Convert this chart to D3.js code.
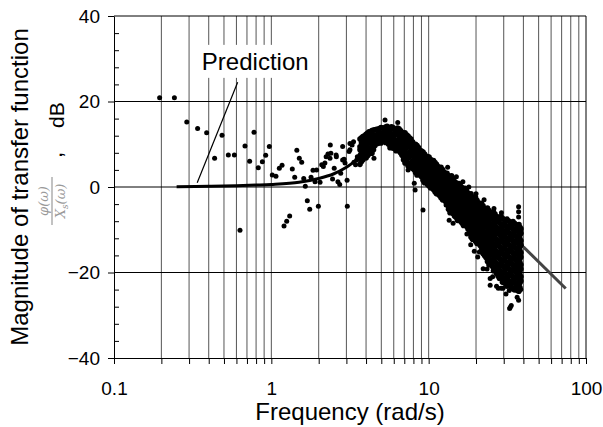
<!DOCTYPE html>
<html>
<head>
<meta charset="utf-8">
<script src="https://cdn.jsdelivr.net/npm/d3@7"></script>
<style>
  body { margin: 0; background: #fff; }
  svg text { font-family: "Liberation Sans", Arial, sans-serif; fill: #000; }
</style>
</head>
<body>
<div id="chart"></div>
<script>
// measured points below ~4.7 rad/s: [frequency, dB]
const sparsePoints = [
  [0.195,20.9],[0.242,20.9],[0.29,15.2],[0.34,13.7],[0.388,12.7],[0.436,6.7],[0.486,12.1],
  [0.533,7.5],[0.582,7.5],[0.632,-10.1],[0.68,9.6],[0.728,6.0],[0.776,12.8],[0.826,4.5],
  [0.877,5.9],[0.921,7.4],[0.971,9.5],[1.014,2.8],[1.07,2.5],[1.124,4.4],[1.17,5.1],
  [1.204,-9.1],[1.252,-8.0],[1.308,-6.8],[1.359,4.2],[1.408,2.3],[1.452,8.6],[1.506,6.7],
  [1.56,5.8],[1.607,2.0],[1.644,0.2],[1.693,-3.2],[1.754,-5.2],[1.788,2.3],[1.84,3.9],
  [1.895,1.2],[1.94,4.0],[1.99,-4.5],[2.04,1.1],[2.09,5.2],[2.14,4.8],[2.19,5.6],[2.23,7.1],
  [2.29,7.7],[2.36,6.7],[2.37,9.8],[2.39,7.9],[2.45,1.9],[2.51,4.4],[2.58,7.5],[2.59,7.1],
  [2.65,1.2],[2.72,0.6],[2.76,3.2],[2.84,6.3],[2.84,9.5],[2.90,6.5],[2.94,5.6],[3.03,1.6],
  [3.04,-4.5],[3.12,8.3],[3.16,8.7],[3.16,10.2],[3.26,9.8],[3.33,10.6],[3.35,5.8],[3.43,5.2],
  [3.49,6.3],[3.52,7.1],[3.66,7.5],[3.75,5.9],[3.85,8.4],[3.88,11.2],[3.94,9.5],
  [4.04,10.2],[4.08,7.9],[4.14,12.2],[4.20,12.2],[4.24,7.9],[4.30,12.6],[4.45,9.1],
  [4.49,6.7],[4.63,10.6],[4.72,12.2]
];

// dense part of the measurement cloud, one column per frequency
const cloudFreq = [
  3.66,3.82,4.00,4.18,4.36,4.56,4.76,4.98,5.20,5.44,5.68,5.93,6.20,6.48,6.77,7.07,7.39,7.72,
  8.07,8.43,8.81,9.21,9.62,10.05,10.50,10.97,11.46,11.98,12.52,13.08,13.67,14.28,14.92,15.59,
  16.29,17.02,17.78,18.58,19.41,20.28,21.20,22.15,23.14,24.18,25.26,26.40,27.58,28.82,30.11,
  31.46,32.87,34.36,35.90,37.50,38.60
];
const cloudDb = [
  [11.2,9.4,8.7,6.9,5.3],
  [11.8,10.1,9.2,7.4,6.4],
  [12.3,11.3,9.5,8.6,6.8],
  [12.9,11.4,10.6,8.8,7.7],
  [13.2,12.0,10.4,9.6,7.9],
  [13.4,12.1,11.3,9.7],
  [13.5,12.7,11.0,10.2],
  [13.9,12.5,11.8,10.3],
  [13.7,13.0,11.6,10.8],
  [14.2,12.8,12.2,10.6],
  [13.6,13.0,11.5,10.6,9.2],
  [13.9,12.4,11.7,9.9,9.1],
  [13.4,12.6,10.9,10.0,8.5],
  [13.6,11.9,11.0,9.2,8.4],
  [12.8,11.9,10.2,9.3,7.4],
  [12.7,11.0,10.1,8.3,7.2,5.6],
  [11.9,10.4,9.5,7.7,6.7,5.0],
  [11.2,9.6,8.7,7.3,5.6,4.8],
  [10.0,9.2,7.5,6.6,4.9,4.1],
  [9.7,8.0,7.1,5.4,4.5,2.8],
  [8.6,7.7,6.0,5.2,3.5,2.8],
  [8.2,6.6,5.7,4.1,3.2,1.6],
  [7.2,6.3,4.6,3.7,2.1,1.4],
  [7.0,5.3,4.4,2.7,1.8,0.3],
  [6.0,5.1,3.4,2.5,0.8,0.1],
  [5.7,4.0,3.1,1.4,0.5,-1.1],
  [4.8,3.9,2.2,1.2,-0.5,-1.4],
  [4.6,2.9,1.9,0.2,-0.7,-2.5],
  [3.5,2.6,0.8,-0.1,-1.9,-2.8],
  [3.2,1.5,0.6,-1.2,-2.2,-4.0],
  [2.1,1.2,-0.6,-1.6,-3.4,-4.4,-6.0],
  [1.9,0.2,-0.8,-2.6,-3.6,-5.4,-6.2],
  [1.0,0.1,-1.7,-2.7,-4.5,-5.5,-7.1],
  [0.8,-0.9,-1.9,-3.7,-4.7,-6.5,-7.3],
  [-0.1,-1.1,-2.9,-3.9,-5.7,-6.7,-8.4],
  [-0.3,-2.1,-3.1,-4.9,-5.9,-7.7,-8.7],
  [-1.4,-2.4,-4.2,-5.2,-7.0,-8.0,-9.8],
  [-1.6,-3.4,-4.4,-6.2,-7.2,-9.0,-10.1,-11.7],
  [-2.9,-3.9,-5.7,-6.7,-8.5,-9.5,-11.3,-12.1],
  [-3.1,-4.9,-5.9,-7.7,-8.7,-10.5,-11.5,-13.2],
  [-4.2,-5.2,-7.0,-8.0,-9.8,-10.8,-12.6,-13.6],
  [-4.4,-6.2,-7.2,-9.0,-10.0,-11.8,-12.8,-14.6,-15.6],
  [-5.4,-6.3,-8.1,-9.1,-10.9,-11.9,-13.7,-14.7,-16.5],
  [-5.5,-7.2,-8.2,-10.0,-11.0,-12.8,-13.8,-15.6,-16.6,-18.2],
  [-6.3,-7.3,-9.1,-10.1,-11.9,-12.9,-14.7,-15.7,-17.5,-18.5],
  [-6.3,-8.1,-9.1,-10.9,-11.9,-13.7,-14.7,-16.5,-17.5,-19.3],
  [-7.0,-8.0,-9.8,-10.8,-12.6,-13.6,-15.4,-16.4,-18.2,-19.2,-20.8],
  [-6.9,-8.7,-9.7,-11.5,-12.5,-14.3,-15.3,-17.1,-18.1,-19.9,-20.8],
  [-7.6,-8.6,-10.4,-11.4,-13.2,-14.2,-16.0,-17.0,-18.8,-19.8,-21.6],
  [-7.5,-9.3,-10.3,-12.1,-13.1,-14.9,-15.9,-17.7,-18.7,-20.5,-21.5,-23.2],
  [-8.2,-9.2,-11.0,-12.0,-13.8,-14.8,-16.6,-17.6,-19.4,-20.4,-22.2,-23.1],
  [-8.1,-9.9,-10.9,-12.7,-13.7,-15.5,-16.5,-18.3,-19.3,-21.1,-22.1,-23.8],
  [-8.8,-9.8,-11.6,-12.6,-14.4,-15.4,-17.2,-18.2,-20.0,-21.0,-22.8,-23.7],
  [-8.8,-10.6,-11.6,-13.4,-14.4,-16.2,-17.2,-19.0,-20.0,-21.8,-22.8,-24.4],
  [-9.8,-10.8,-12.6,-13.6,-15.4,-16.4,-18.2,-19.2,-21.0,-22.0]
];

// second pass of the cloud, between the columns above
const cloudFreq2 = [
  3.74,3.91,4.09,4.27,4.46,4.66,4.87,5.09,5.32,5.56,5.80,6.06,6.34,6.62,6.92,7.23,7.55,7.89,
  8.25,8.62,9.01,9.41,9.83,10.27,10.73,11.21,11.72,12.25,12.80,13.37,13.97,14.60,15.25,15.94,
  16.65,17.40,18.18,18.99,19.84,20.73,21.67,22.64,23.65,24.71,25.82,26.98,28.19,29.46,30.78,
  32.16,33.61,35.12,36.69,38.05
];
const cloudDb2 = [
  [11.5,10.3,8.0,6.1],
  [12.0,10.6,8.3,7.0],
  [12.6,10.1,9.2,7.3],
  [13.0,11.0,9.1,8.4],
  [13.3,11.6,10.8,8.7],
  [13.5,11.7,10.5],
  [13.7,12.1,10.9],
  [13.8,12.3,11.2],
  [14.0,12.4,11.3,10.4],
  [13.9,12.5,11.1,10.0],
  [14.1,12.2,11.0,9.6],
  [13.5,12.1,10.4,9.4],
  [13.8,12.2,10.5,9.6,8.6],
  [13.2,12.4,10.7,9.8,8.0],
  [12.4,11.4,9.7,8.8,7.8,6.4],
  [12.2,10.6,9.2,7.7,6.3],
  [11.5,10.1,8.2,7.2,5.5,4.6],
  [10.6,9.0,8.2,6.1,5.3,4.3],
  [10.0,8.5,6.9,6.0,4.2,3.4],
  [9.2,8.4,6.6,4.9,3.9,3.0],
  [8.4,7.1,6.4,4.6,2.4],
  [7.7,7.0,5.1,4.4,2.7,1.0],
  [7.1,5.8,4.1,3.2,1.0,0.6],
  [6.5,4.8,3.9,2.1,1.2,-0.2],
  [6.2,4.5,2.9,2.0,0.3,-0.6],
  [5.3,4.4,2.6,0.9,0.0,-1.6],
  [4.3,3.3,1.6,0.7,-1.0,-2.0],
  [4.1,2.2,1.4,-0.4,-1.3,-3.0],
  [3.0,2.0,0.2,-0.6,-2.5,-3.4],
  [2.6,0.9,0.0,-1.9,-2.9,-4.7,-5.2],
  [2.6,0.6,-0.2,-2.1,-3.0,-4.9,-5.6],
  [1.3,-0.3,-1.3,-3.2,-4.1,-5.9,-6.8],
  [0.6,-0.4,-2.3,-3.3,-5.1,-6.0,-7.8],
  [0.2,-1.6,-2.5,-4.4,-5.2,-7.1,-8.0],
  [-0.6,-1.5,-3.4,-4.4,-6.3,-7.2,-9.0],
  [-0.9,-2.8,-3.7,-5.6,-6.5,-8.3,-9.2],
  [-1.9,-2.9,-4.8,-5.7,-7.6,-8.5,-10.6],
  [-2.3,-4.1,-5.0,-6.9,-7.8,-9.7,-10.7,-12.2],
  [-2.4,-4.5,-5.3,-7.2,-8.1,-10.0,-10.9,-12.7],
  [-3.7,-4.6,-6.5,-7.4,-9.3,-10.2,-12.1,-13.0],
  [-3.8,-5.8,-6.6,-8.5,-9.4,-11.3,-12.2,-14.1,-15.0],
  [-5.0,-5.9,-7.8,-8.6,-10.6,-11.4,-13.3,-14.1,-16.0],
  [-4.9,-6.9,-7.6,-9.6,-10.4,-12.4,-13.2,-15.1,-15.9,-17.4],
  [-6.0,-6.8,-8.7,-9.5,-11.5,-12.3,-14.2,-15.0,-17.0,-17.8],
  [-5.8,-7.7,-8.5,-10.5,-11.3,-13.3,-14.1,-16.0,-16.9,-18.8,-19.6],
  [-6.9,-7.5,-9.5,-10.3,-12.2,-13.1,-15.0,-15.8,-17.8,-18.6,-20.2],
  [-7.5,-8.4,-10.2,-11.1,-13.0,-13.9,-15.8,-16.7,-18.6,-19.5,-21.4],
  [-7.3,-9.1,-10.0,-11.9,-12.7,-14.6,-15.5,-17.4,-18.4,-20.3,-21.1,-22.3],
  [-8.1,-9.0,-10.8,-11.7,-13.6,-14.5,-16.4,-17.3,-19.2,-20.1,-21.9,-22.6],
  [-7.9,-9.7,-10.6,-12.5,-13.4,-15.3,-16.2,-18.1,-19.0,-20.9,-21.8,-22.8],
  [-8.6,-9.4,-11.4,-12.2,-14.1,-15.0,-16.9,-17.8,-19.7,-20.6,-22.5,-23.4],
  [-8.5,-10.3,-11.2,-13.0,-14.0,-15.8,-16.7,-18.6,-19.5,-21.4,-22.3,-24.1],
  [-9.3,-10.2,-12.0,-12.9,-14.8,-15.7,-17.6,-18.5,-20.4,-21.3,-23.2,-24.2],
  [-9.4,-11.2,-12.1,-14.0,-14.9,-16.8,-17.7,-19.6,-20.5,-22.4,-23.5]
];

// scattered points around the cloud
const outlierPoints = [
  [5.28,15.7],[6.36,15.1],[5.56,13.9],[7.4,4.0],[8.1,0.9],[8.2,-0.7],[9.2,-5.4],
  [12.9,-4.2],[13.5,-7.8],[14.3,-8.5],[17.5,-11.0],[18.5,-13.5],[19.5,-15.0],[20.5,-16.4],
  [21.0,-15.2],[22.2,-19.1],[23.5,-19.2],[24.6,-21.4],[24.6,-23.0],[25.5,-21.0],[27.0,-23.2],
  [27.7,-23.7],[28.9,-23.7],[29.7,-23.7],[31.0,-25.0],[32.5,-24.2],[32.7,-28.4],[33.5,-27.7],
  [33.0,-28.1],[35.8,-24.0],[37.3,-26.5],[38.5,-24.0],[36.5,-25.8],
  [37.3,-4.6],[37.3,-5.8],[37.3,-7.0],
  [13.2,4.6],[15.0,2.4],[16.5,1.2],[18.0,0.0],[20.0,-1.6],[22.5,-3.0],[26.0,-5.0],[29.0,-6.0]
];

// predicted magnitude
const predFreq = [0.25,0.4,0.6,0.8,1,1.5,2,2.5,3,3.5,4,4.5,5,5.5,6,6.5,7,8,9,10,12,15,20,25,30,35,40];
const predDb = [0.05,0.15,0.3,0.45,0.6,1.1,2.0,3.1,4.6,6.4,8.2,9.9,11.3,12.3,12.7,12.5,11.8,9.6,7.3,5.2,1.8,-1.8,-6.0,-9.0,-11.2,-12.8,-14.0];
const extFreq = [40, 74.3];
const extDb = [-14.0, -23.75];

const labelText = "Prediction";
const labelPos = [0.79, 27.4];
const pointerFreq = [0.338, 0.611];
const pointerDb = [1.0, 24.5];

const xMajor = [0.1, 1, 10, 100];
const yMajor = [-40, -20, 0, 20, 40];
const yMinor = d3.range(-40, 41, 4);

const W = 603, H = 427;
const x = d3.scaleLog().domain([0.1, 100]).range([114, 586]);
const y = d3.scaleLinear().domain([-40, 40]).range([358, 16]);

const svg = d3.select("#chart").append("svg")
  .attr("width", W).attr("height", H);

// vertical grid at every log tick
svg.append("g").selectAll("line")
  .data(x.ticks().filter(d => d > 0.1 && d < 100))
  .join("line")
  .attr("x1", d => x(d)).attr("x2", d => x(d))
  .attr("y1", y(40)).attr("y2", y(-40))
  .attr("stroke", "#555").attr("stroke-width", 1);

// horizontal grid
svg.append("g").selectAll("line")
  .data([-20, 0, 20])
  .join("line")
  .attr("x1", x(0.1)).attr("x2", x(100))
  .attr("y1", d => y(d)).attr("y2", d => y(d))
  .attr("stroke", "#000").attr("stroke-width", 1);

// frame top/right
svg.append("path")
  .attr("d", `M${x(0.1)},${y(40)}H${x(100)}V${y(-40)}`)
  .attr("fill", "none").attr("stroke", "#000");

// axes
const fmt = d => xMajor.includes(+d.toPrecision(3)) ? d3.format("~g")(d) : "";
const xAxis = svg.append("g")
  .attr("transform", `translate(0,${y(-40)})`)
  .call(d3.axisBottom(x).tickValues(x.ticks()).tickFormat(fmt)
    .tickSize(6).tickSizeOuter(0).tickPadding(18));
const yAxis = svg.append("g")
  .attr("transform", `translate(${x(0.1)},0)`)
  .call(d3.axisLeft(y).tickValues(yMajor).tickSize(6).tickSizeOuter(0).tickPadding(8));
svg.append("g")
  .attr("transform", `translate(${x(0.1)},0)`)
  .call(d3.axisRight(y).tickValues(yMinor.filter(d => d % 20 !== 0)).tickSize(5).tickFormat(""))
  .call(g => g.select(".domain").remove());

[xAxis, yAxis].forEach(g => {
  g.selectAll("text").attr("font-size", 19).attr("fill", "#000")
    .attr("font-family", "Liberation Sans, Arial, sans-serif");
  g.selectAll("line").attr("stroke", "#000");
  g.select(".domain").attr("stroke", "#000");
});

// prediction curve
const line = d3.line().x(d => x(d[0])).y(d => y(d[1])).curve(d3.curveCatmullRom);
svg.append("path")
  .datum(predFreq.map((f, i) => [f, predDb[i]]))
  .attr("d", line)
  .attr("fill", "none").attr("stroke", "#000").attr("stroke-width", 3);

// measurement points (the cloud dots slightly bigger so it reads as a solid band)
const cloudPoints = cloudFreq.flatMap((f, i) => cloudDb[i].map(v => [f, v]))
  .concat(cloudFreq2.flatMap((f, i) => cloudDb2[i].map(v => [f, v])));
svg.append("g").selectAll("circle")
  .data(cloudPoints)
  .join("circle")
  .attr("cx", d => x(d[0])).attr("cy", d => y(d[1]))
  .attr("r", 2.8).attr("fill", "#000");
svg.append("g").selectAll("circle")
  .data(sparsePoints.concat(outlierPoints))
  .join("circle")
  .attr("cx", d => x(d[0])).attr("cy", d => y(d[1]))
  .attr("r", 2.5).attr("fill", "#000");

// extrapolated part of the prediction
svg.append("path")
  .datum(extFreq.map((f, i) => [f, extDb[i]]))
  .attr("d", d3.line().x(d => x(d[0])).y(d => y(d[1])))
  .attr("fill", "none").attr("stroke", "#444").attr("stroke-width", 3);

// annotation
const lbl = svg.append("g");
const lblText = lbl.append("text")
  .attr("x", x(labelPos[0])).attr("y", y(labelPos[1]))
  .attr("text-anchor", "middle").attr("font-size", 24)
  .text(labelText);
const bb = lblText.node().getBBox();
lbl.insert("rect", "text")
  .attr("x", bb.x - 3).attr("y", bb.y - 3)
  .attr("width", bb.width + 6).attr("height", bb.height + 6)
  .attr("fill", "#fff");
svg.append("line")
  .attr("x1", x(pointerFreq[0])).attr("y1", y(pointerDb[0]))
  .attr("x2", x(pointerFreq[1])).attr("y2", y(pointerDb[1]))
  .attr("stroke", "#000").attr("stroke-width", 1.2);

// axis titles
svg.append("text")
  .attr("x", (x(0.1) + x(100)) / 2).attr("y", 420)
  .attr("text-anchor", "middle").attr("font-size", 24)
  .text("Frequency (rad/s)");
svg.append("text")
  .attr("transform", `translate(28,${(y(40) + y(-40)) / 2}) rotate(-90)`)
  .attr("text-anchor", "middle").attr("font-size", 24)
  .text("Magnitude of transfer function");

// second title line: fraction, dB
const sub = svg.append("g").attr("transform", "translate(52,201) rotate(-90)");
sub.append("line").attr("x1", -24).attr("x2", 24).attr("y1", 0).attr("y2", 0)
  .attr("stroke", "#999").attr("stroke-width", 1.2);
sub.append("text").attr("x", 0).attr("y", -4).attr("text-anchor", "middle")
  .attr("font-size", 13).style("font-family", "DejaVu Serif, serif").style("font-style", "italic")
  .style("fill", "#999").text("φ(ω)");
const den = sub.append("text").attr("x", 0).attr("y", 13).attr("text-anchor", "middle")
  .attr("font-size", 13).style("font-family", "DejaVu Serif, serif").style("font-style", "italic")
  .style("fill", "#999");
den.append("tspan").text("X");
den.append("tspan").attr("font-size", 9).attr("dy", 3).text("s");
den.append("tspan").attr("dy", -3).text("(ω)");
sub.append("text").attr("x", 43).attr("y", 10).attr("font-size", 22).text(",");
sub.append("text").attr("x", 73).attr("y", 12).attr("font-size", 21).text("dB");
</script>
</body>
</html>
